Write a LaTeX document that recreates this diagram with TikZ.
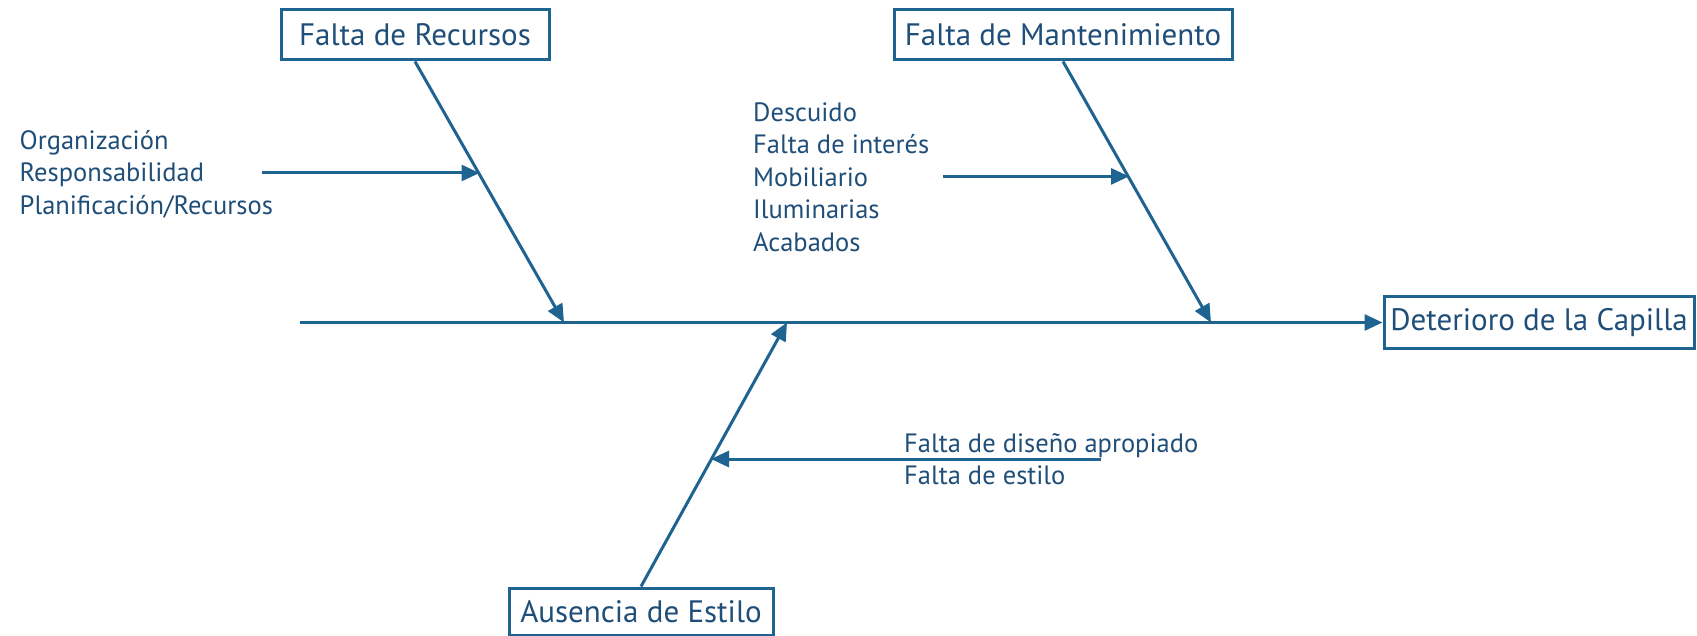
\documentclass[tikz,border=0pt]{standalone}
\usepackage{fontspec}
\setmainfont{PT Sans}
\usetikzlibrary{arrows.meta}
\definecolor{linec}{HTML}{1F6391}
\definecolor{textc}{HTML}{1F4E79}
\tikzset{
  catbox/.style={draw=linec, line width=3pt, text=textc, inner sep=0pt, font=\fontsize{31}{35}\selectfont, fill=white},
  cause/.style={text=textc, inner sep=0pt, anchor=west, align=left, font=\fontsize{26.5}{32.5}\selectfont},
  bone/.style={draw=linec, line width=3pt, -{Triangle[length=18pt,width=16pt]}},
}
\begin{document}
\begin{tikzpicture}[x=1pt,y=-1pt]
\useasboundingbox (0,0) rectangle (1697,636);
\node[catbox, minimum width=268pt, minimum height=50pt] (rec) at (415,35) {Falta de Recursos};
\node[catbox, minimum width=338pt, minimum height=50pt] (man) at (1063,35) {Falta de Mantenimiento};
\node[catbox, minimum width=310pt, minimum height=51pt] (det) at (1539,322.5) {Deterioro de la Capilla};
\node[catbox, minimum width=264pt, minimum height=47pt] (aus) at (641,611.5) {Ausencia de Estilo};
\coordinate (sp) at (300,322.5);
\coordinate (j1) at (564,322.5);
\coordinate (j2) at (1211,322.5);
\coordinate (j3) at (787,322.5);
\draw[bone] (sp) -- (det.west);
\draw[bone] (rec.south) -- (j1);
\draw[bone] (man.south) -- (j2);
\draw[bone] (aus.north) -- (j3);
\node[cause] (c1) at (19.5,174) {Organización\\Responsabilidad\\Planificación/Recursos};
\node[cause] (c2) at (753,176.8) {Descuido\\Falta de interés\\Mobiliario\\Iluminarias\\Acabados};
\node[cause] (c3) at (904,459.4) {Falta de diseño apropiado\\Falta de estilo};
\coordinate (a1s) at (262,173);
\coordinate (a1e) at (479.5,173);
\coordinate (a2s) at (943,176.4);
\coordinate (a2e) at (1129,176.4);
\coordinate (a3s) at (1100.7,459);
\coordinate (a3e) at (711,459);
\draw[bone] (a1s) -- (a1e);
\draw[bone] (a2s) -- (a2e);
\draw[bone] (a3s) -- (a3e);
\end{tikzpicture}
\end{document}
